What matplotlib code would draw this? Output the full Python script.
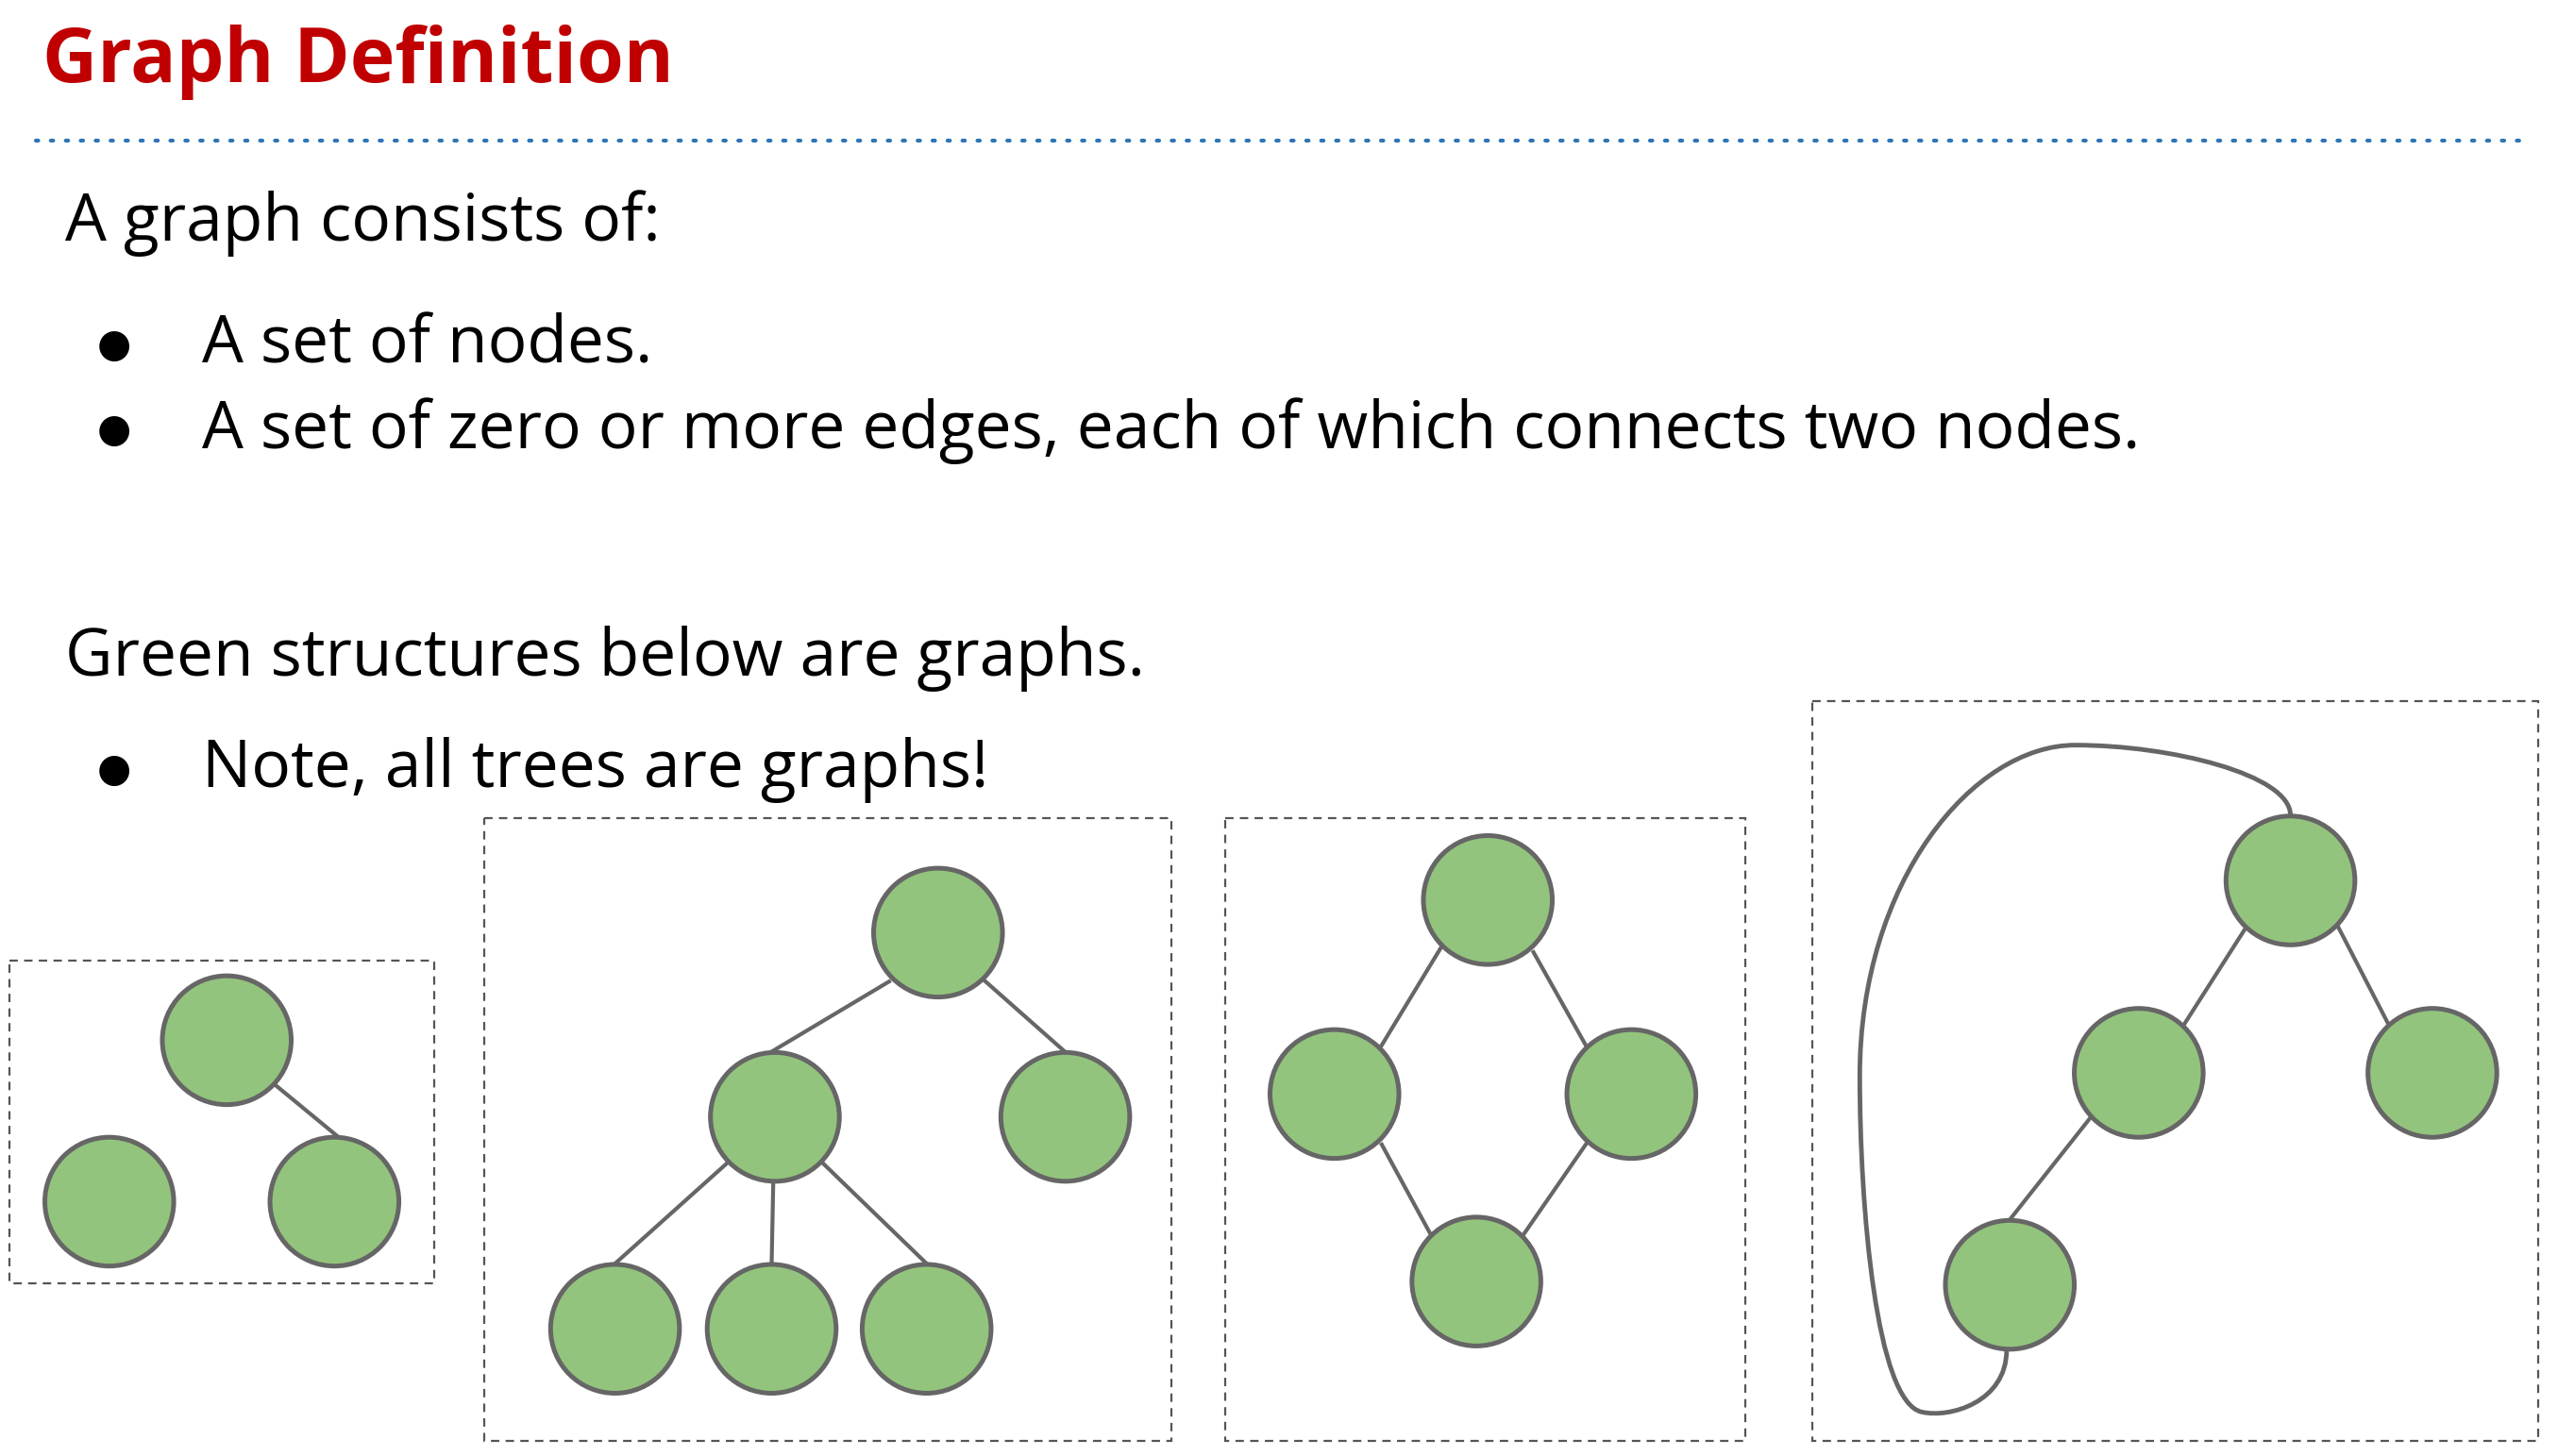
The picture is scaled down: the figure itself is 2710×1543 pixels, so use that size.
import matplotlib.pyplot as plt
from matplotlib.patches import Circle, Rectangle, PathPatch
from matplotlib.path import Path

# coordinates in reference display units (1568 x 893)
W, H = 1568, 893

boxes = [(6, 589, 266, 787), (297, 502, 718, 884), (751, 502, 1070, 884), (1111, 430, 1556, 884)]

nodes = [(139, 638), (67, 737), (205, 737),
         (575, 572), (475, 685), (653, 685), (377, 815), (473, 815), (568, 815),
         (912, 552), (818, 671), (1000, 671), (905, 786),
         (1404, 540), (1311, 658), (1491, 658), (1232, 788)]
# edge segments as drawn (attachment points on the circles)
edges = [((167, 664), (207, 697)),
         ((545, 602), (473, 645)), ((603, 601), (655, 647)), ((445, 714), (377, 775)),
         ((474, 725), (473, 775)), ((505, 714), (568, 775)),
         ((884, 580), (847, 641)), ((940, 584), (972, 641)), ((847, 702), (878, 759)),
         ((972, 702), (934, 757)),
         ((1376, 570), (1339, 628)), ((1433, 568), (1465, 630)), ((1281, 686), (1232, 748))]
loop_pts = [(1230, 828), (1230, 860), (1195, 870), (1178, 866),
            (1150, 860), (1140, 740), (1140, 660),
            (1140, 540), (1210, 457), (1272, 457),
            (1330, 457), (1404, 475), (1404, 500)]

fig = plt.figure(figsize=(27.10, 15.43), dpi=100)
ax = fig.add_axes([0, 0, 1, 1])
ax.set_xlim(0, W)
ax.set_ylim(H, 0)
ax.axis('off')

font = 'Open Sans'
ax.text(26, 38, 'Graph Definition', fontsize=58, fontweight='bold', color='#C00000',
        family=font, va='center', ha='left')
ax.plot([22, 1550], [86, 86], color='#2E75B6', lw=3, ls=(0, (0.6, 3.2)), dash_capstyle='round')

body = 50
ax.text(40, 137, 'A graph consists of:', fontsize=body, family=font, va='center')
for y, s in [(212, 'A set of nodes.'), (264, 'A set of zero or more edges, each of which connects two nodes.')]:
    ax.text(70, y, '\u25CF', fontsize=30, family='DejaVu Sans', va='center', ha='center')
    ax.text(124, y, s, fontsize=body, family=font, va='center')
ax.text(40, 404, 'Green structures below are graphs.', fontsize=body, family=font, va='center')
ax.text(70, 472, '\u25CF', fontsize=30, family='DejaVu Sans', va='center', ha='center')
ax.text(124, 472, 'Note, all trees are graphs!', fontsize=body, family=font, va='center')

for x0, y0, x1, y1 in boxes:
    ax.add_patch(Rectangle((x0, y0), x1 - x0, y1 - y0, fill=False, ec='#555555', lw=1.6, ls=(0, (4, 3))))

edge_c = '#666666'
for (xa, ya), (xb, yb) in edges:
    ax.plot([xa, xb], [ya, yb], color=edge_c, lw=3, zorder=2)
for x, y in nodes:
    ax.add_patch(Circle((x, y), 39.5, fc='#93C47D', ec=edge_c, lw=3.6, zorder=3))

codes = [Path.MOVETO] + [Path.CURVE4] * (len(loop_pts) - 1)
ax.add_patch(PathPatch(Path(loop_pts, codes), fill=False, ec=edge_c, lw=3.5, zorder=2))

fig.savefig('out.png', dpi=100)
